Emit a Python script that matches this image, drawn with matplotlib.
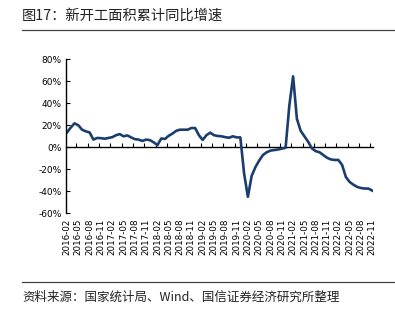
import numpy as np
import matplotlib.pyplot as plt
from matplotlib.lines import Line2D

plt.rcParams['font.family'] = ['Noto Sans CJK SC', 'DejaVu Sans']

# 新开工面积累计同比 (%), 2016-02 至 2022-11, 按月
months = [f'{y}-{m:02d}' for y in range(2016, 2023) for m in range(1, 13)]
months = months[1:months.index('2022-11') + 1]
values = [13.6, 18.0, 21.8, 20.0, 16.0, 14.5, 13.5, 7.0, 8.5, 8.3, 7.8, 8.5,
          9.2, 11.0, 12.0, 10.0, 10.8, 9.0, 7.4, 7.0, 5.8, 7.0, 6.5, 4.5,
          2.0, 8.0, 7.6, 10.5, 12.5, 15.0, 16.0, 16.0, 16.0, 17.5, 17.5, 11.0,
          6.7, 11.0, 13.3, 11.0, 10.3, 10.0, 9.2, 8.7, 10.0, 9.0, 9.0, -24.0,
          -45.0, -26.0, -18.0, -12.0, -7.0, -4.5, -3.0, -2.5, -2.0, -1.2, -0.5, 38.0,
          64.5, 26.0, 15.0, 10.0, 5.0, -1.0, -3.5, -4.5, -7.0, -9.5, -11.0, -11.5,
          -11.5, -16.0, -27.0, -31.5, -34.0, -36.0, -37.0, -37.5, -37.5, -39.4]
yticks = [-60, -40, -20, 0, 20, 40, 60, 80]

fig = plt.figure(figsize=(3.95, 3.22), dpi=100)
ax = fig.add_axes([66 / 395, 1 - 213.3 / 322, 307 / 395, 154 / 322])

x = np.arange(len(values))
ax.plot(x, values, color='#1b3d6e', linewidth=1.9, solid_joinstyle='round')

ax.set_xlim(-0.27, 81.2)
ax.set_ylim(-60, 80)
ax.set_yticks(yticks)
ax.set_yticklabels([f'{v}%' for v in yticks], fontsize=6.5, family='DejaVu Sans')
ax.tick_params(axis='y', direction='in', length=3, width=0.8, pad=3)

lab_pos = x[::3]
ax.set_xticks(lab_pos)
ax.set_xticklabels([months[i] for i in lab_pos], rotation=90, fontsize=6.3,
                   family='DejaVu Sans')
ax.tick_params(axis='x', length=0, pad=4)

for s in ['top', 'right', 'bottom']:
    ax.spines[s].set_visible(False)
ax.spines['left'].set_linewidth(1.0)

# 零轴及刻度
zero_ax = ax.secondary_xaxis(60 / 140)
zero_ax.set_xticks(lab_pos[1:] - 0.5)
zero_ax.tick_params(axis='x', direction='in', length=3, width=0.8, labelbottom=False)
zero_ax.set_xticklabels([])
zero_ax.spines['bottom'].set_linewidth(1.0)

fig.text(22 / 395, 1 - 16 / 322, '图17：新开工面积累计同比增速', fontsize=10.3,
         va='center', ha='left', color='#222222')
fig.add_artist(Line2D([22 / 395, 1.0], [1 - 30 / 322] * 2, color='#444444', linewidth=0.9))
fig.add_artist(Line2D([22 / 395, 1.0], [1 - 282 / 322] * 2, color='#444444', linewidth=0.9))
fig.text(22 / 395, 1 - 297 / 322, '资料来源：国家统计局、Wind、国信证券经济研究所整理',
         fontsize=9.0, va='center', ha='left', color='#222222')

fig.savefig('out.png', dpi=100)
